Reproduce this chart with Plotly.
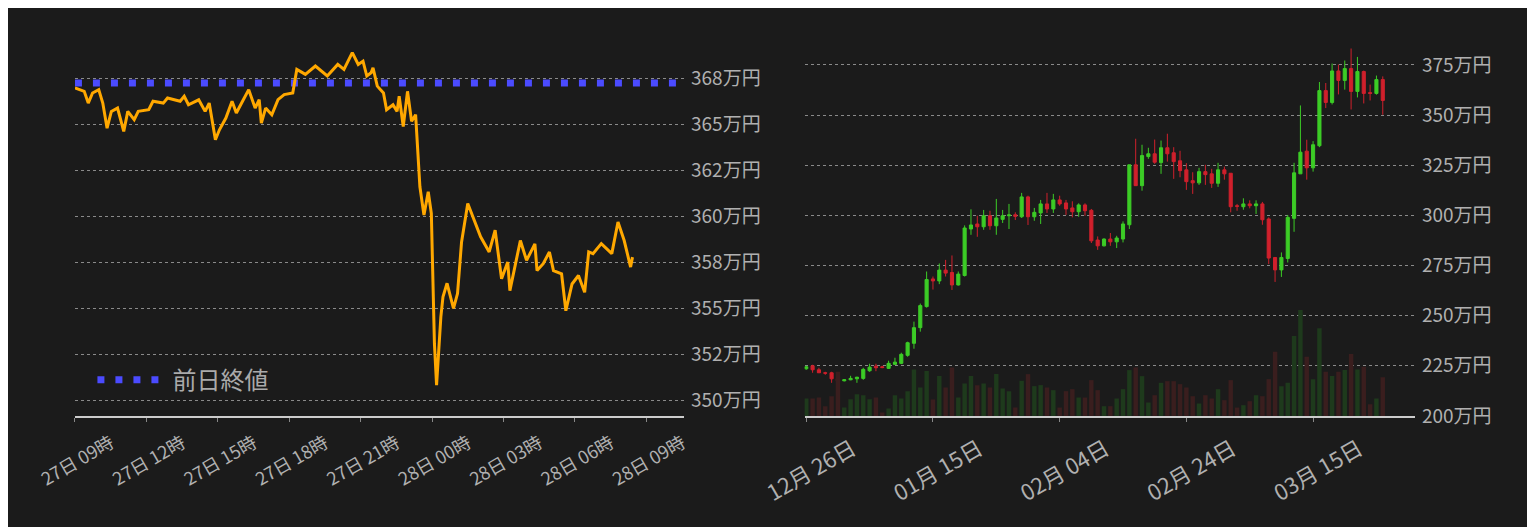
import pandas as pd
import plotly.graph_objects as go

# ---- 左: 当日の価格推移 (万円) ----
intraday_hours = [0, 0.39, 0.56, 0.74, 1.0, 1.17, 1.35, 1.53, 1.79, 2.05, 2.22, 2.49, 2.66, 3.1, 3.28,
                  3.71, 3.89, 4.42, 4.59, 4.77, 5.2, 5.47, 5.64, 5.9, 6.07, 6.34, 6.6, 6.78, 7.04,
                  7.3, 7.57, 7.74, 7.83, 8.01, 8.27, 8.53, 8.79, 9.15, 9.32, 9.68, 10.1, 10.36,
                  10.6, 11.04, 11.3, 11.65, 11.9, 12.1, 12.26, 12.44, 12.52, 12.7, 12.96, 13.09,
                  13.36, 13.53, 13.62, 13.79, 13.97, 14.14, 14.31, 14.49, 14.66, 14.84, 14.97,
                  15.1, 15.19, 15.37, 15.46, 15.63, 15.9, 16.07, 16.24, 16.5, 16.86, 17.04, 17.4,
                  17.65, 17.92, 18.18, 18.27, 18.45, 18.71, 18.97, 19.32, 19.41, 19.67, 19.93,
                  20.1, 20.44, 20.62, 20.88, 21.15, 21.41, 21.58, 21.76, 22.11, 22.55, 22.81,
                  23.07, 23.25, 23.34, 23.42]
intraday_price = [366.96, 366.78, 366.14, 366.69, 366.87, 366.14, 364.78, 365.69, 365.87, 364.6, 365.69,
                  365.24, 365.69, 365.78, 366.24, 366.14, 366.42, 366.24, 366.51, 366.05, 366.32,
                  365.69, 366.14, 364.15, 364.69, 365.33, 366.24, 365.6, 366.24, 366.87, 365.87,
                  366.33, 365.05, 365.87, 365.51, 366.33, 366.6, 366.69, 367.97, 367.7, 368.15,
                  367.88, 367.61, 368.24, 367.97, 368.88, 368.24, 368.42, 367.61, 367.79, 368.06,
                  367.06, 366.69, 365.78, 366.05, 365.69, 366.51, 364.87, 366.78, 365.15, 365.51,
                  361.6, 360.06, 361.33, 360.15, 353.08, 350.83, 354.54, 355.63, 356.36, 355.0,
                  355.8, 358.6, 360.69, 359.42, 358.88, 358.06, 359.24, 356.6, 357.51, 355.96,
                  357.05, 358.68, 357.6, 358.5, 357.05, 357.42, 358.06, 357.05, 356.87, 354.87,
                  356.32, 356.78, 355.87, 358.06, 357.97, 358.51, 357.97, 359.69, 358.68, 357.78,
                  357.24, 357.78, 357.97]
prev_close = 367.23
left_tickvals = [350, 352.5, 355, 357.5, 360, 362.5, 365, 367.5]
left_ticktext = ["350万円", "352万円", "355万円", "358万円", "360万円", "362万円", "365万円", "368万円"]

# ---- 右: 日足 (万円) ----
d_open = [223.5, 225, 223, 221.5, 221.5, 218.5, 217.5, 218, 218.5, 218.7, 222.5, 224.8, 224.5, 223.7, 225.7,
          226.2, 230.2, 236.2, 244, 254.5, 268.3, 267.3, 272.7, 271.5, 265.3, 270, 293.2, 295.7, 294.3,
          299.8, 294.8, 298, 299.8, 300.3, 299.3, 309.2, 299.3, 301.2, 305.7, 303.2, 307.7, 306.2, 303.7,
          301.8, 305.2, 302.5, 287.7, 284.8, 288.2, 286.8, 288.2, 295.3, 325.2, 314.8, 329.3, 330.7, 326.3,
          333.7, 331.2, 327.2, 322.7, 317.3, 316.2, 321.8, 320.7, 316, 322.7, 321, 304.8, 304.3, 305.7,
          304.8, 305.7, 298.2, 279, 272.8, 278.5, 298.5, 320.7, 332, 323.7, 334.7, 362.2, 356.3, 372,
          367.3, 373.2, 361.8, 371.7, 361.2, 360.8, 367.7]
d_high = [225, 225.5, 224, 222, 222, 219, 218.3, 220, 219.5, 224, 226, 226, 225, 227.5, 229, 231.5, 237, 247,
          256, 272, 269.5, 276, 277.8, 280, 272, 295, 303, 299.8, 302.7, 302.3, 308.2, 302.7, 305.7, 301.5,
          311.2, 309.8, 303.7, 307.7, 311.2, 310.7, 309.8, 307.7, 307, 306, 306, 303.2, 289.5, 288.5, 291.2,
          289.8, 297, 325.2, 338.2, 335.2, 333.7, 337.8, 337.3, 340.7, 334, 332.2, 326, 321.5, 323.7, 325.2,
          323.2, 326.2, 324.3, 321, 305.7, 308.5, 307.5, 307.5, 306.7, 299, 279, 281.5, 300.2, 326.2, 354.8,
          337.7, 337, 366.5, 366, 375.7, 375.2, 377.2, 383.2, 379, 372.2, 365.2, 369.7, 369.3]
d_low = [223, 221.5, 221.5, 220.5, 216.5, 216.5, 217.2, 217.8, 216.5, 218, 222, 222.3, 223.8, 223.5, 225.5,
         225.8, 229.5, 233.5, 242, 254, 263, 265.7, 269.5, 262.8, 265, 269.5, 290.3, 289.3, 292.8, 292.8,
         290.3, 296.2, 293.2, 297.7, 298.7, 295.2, 297.3, 295.7, 301.2, 301.2, 304.8, 300.2, 299, 299.3,
         299.8, 286.2, 282.8, 284.5, 284.8, 283.7, 286.5, 293.2, 314.8, 312.3, 328.2, 325.7, 320.7, 326.8,
         318.2, 319, 312.7, 310.7, 315.2, 315.2, 313.7, 314.2, 317.8, 301.5, 302.3, 302.8, 303.5, 300.7,
         295.3, 275.7, 266.8, 269.3, 276.5, 291.8, 320.7, 317.8, 321.8, 334, 353.5, 355.3, 360.3, 362.7,
         352.8, 358.8, 355.8, 357.3, 360.2, 350.2]
d_close = [224.5, 223, 221.5, 221.3, 218.5, 217.5, 218, 218.7, 219.3, 223.2, 224.3, 224, 224.1, 226.2, 226.8,
           230.7, 236.5, 244, 255, 268, 267.3, 272.7, 271.2, 265.3, 270.7, 293.7, 295.2, 294.3, 299.8,
           294.8, 298.7, 299.8, 300.2, 299.5, 309.2, 299.3, 301.5, 305.7, 303.2, 307.7, 305.7, 303.2, 301.8,
           305.2, 302.3, 287.3, 284.8, 288.2, 286.8, 288.7, 295.7, 325.2, 314.8, 329.8, 330.7, 326.5, 333.7,
           330.7, 326.8, 322.3, 316.8, 316.2, 321.8, 320.3, 316, 322.7, 320.7, 304.3, 304.5, 305.7, 304.8,
           305.7, 297.8, 278.7, 272.8, 279, 299, 321.2, 331.5, 323.7, 335.2, 362.2, 356.3, 372, 367.3,
           373.2, 361.8, 371.7, 360.8, 360.8, 367.7, 357.3]
d_volume = [52, 52, 55, 29, 59, 132, 25, 50, 65, 62, 50, 55, 10, 22, 62, 52, 74, 139, 85, 134, 49, 119, 85, 145,
            55, 97, 119, 92, 97, 85, 125, 82, 74, 25, 105, 125, 89, 92, 85, 77, 25, 74, 80, 55, 55, 107, 77,
            29, 29, 52, 80, 137, 145, 119, 40, 62, 99, 104, 104, 95, 85, 59, 37, 62, 52, 80, 47, 107, 25, 32,
            44, 62, 59, 110, 192, 89, 99, 239, 317, 177, 110, 262, 132, 119, 132, 137, 185, 139, 147, 35, 52,
            116]
right_tickvals = [200, 225, 250, 275, 300, 325, 350, 375]

times = pd.Timestamp("2024-03-27 09:00") + pd.to_timedelta(intraday_hours, unit="h")
dates = pd.date_range("2023-12-26", periods=len(d_open), freq="D")
vol_colors = ["#1e3a1c" if c >= o else "#3a1e1e" for o, c in zip(d_open, d_close)]

BG = "#1b1b1b"
GRID = "#8a8a8a"
TXT = "#b0b0b0"
FONT = "Noto Sans CJK JP"
YDOM = [0.226, 0.930]

fig = go.Figure()
fig.add_trace(go.Scatter(x=[times[0], pd.Timestamp("2024-03-28 10:35")], y=[prev_close, prev_close],
                         mode="lines", name="前日終値",
                         line=dict(color="#4b4bff", width=7, dash="7px,11px"),
                         xaxis="x", yaxis="y"))
fig.add_trace(go.Scatter(x=times, y=intraday_price, mode="lines", showlegend=False,
                         line=dict(color="#ffa800", width=3), xaxis="x", yaxis="y"))
fig.add_trace(go.Bar(x=dates, y=d_volume, marker=dict(color=vol_colors, line=dict(width=0)),
                     showlegend=False, xaxis="x2", yaxis="y3"))
fig.add_trace(go.Candlestick(x=dates, open=d_open, high=d_high, low=d_low, close=d_close,
                             increasing=dict(line=dict(color="#3ccc26", width=1), fillcolor="#3ccc26"),
                             decreasing=dict(line=dict(color="#d0202c", width=1), fillcolor="#d0202c"),
                             showlegend=False, xaxis="x2", yaxis="y2"))

fig.update_layout(
    width=1535, height=527, paper_bgcolor=BG, plot_bgcolor=BG,
    margin=dict(l=0, r=0, t=0, b=0, pad=0),
    font=dict(family=FONT, color=TXT),
    bargap=0.3,
    legend=dict(x=0.055, y=0.294, xanchor="left", yanchor="middle", bgcolor="rgba(0,0,0,0)",
                itemwidth=70, font=dict(size=24, color="#aaaaaa")),
    xaxis=dict(domain=[0.0436, 0.4404], anchor="y", type="date", automargin=False,
               range=[pd.Timestamp("2024-03-27 09:00"), pd.Timestamp("2024-03-28 10:35")],
               tickformat="%d日 %H時", dtick=3 * 3600 * 1000, tickangle=-30,
               ticklabelshift=36, ticklabelstandoff=4,
               tickfont=dict(size=18, color=TXT), showgrid=False, showline=True,
               linecolor="#cccccc", linewidth=2, ticks="outside", ticklen=4, tickcolor="#888"),
    yaxis=dict(domain=YDOM, anchor="x", side="right", range=[349.16, 369.3],
               automargin=False, tickvals=left_tickvals, ticktext=left_ticktext,
               tickfont=dict(size=19, color=TXT), ticklabelstandoff=6,
               gridcolor=GRID, griddash="3px,3px", gridwidth=1, zeroline=False, ticks=""),
    xaxis2=dict(domain=[0.519, 0.9166], anchor="y2", type="date", automargin=False,
                range=[pd.Timestamp("2023-12-25 18:00"), pd.Timestamp("2024-03-31 02:00")],
                tickformat="%m月 %d日", dtick=20 * 86400000, tick0="2023-12-26",
                tickangle=-30, ticklabelshift=46, ticklabelstandoff=6,
                tickfont=dict(size=22, color=TXT), showgrid=False,
                showline=True, linecolor="#cccccc", linewidth=2, ticks="outside", ticklen=4,
                tickcolor="#888", rangeslider=dict(visible=False)),
    yaxis2=dict(domain=YDOM, anchor="x2", side="right", range=[200, 385],
                automargin=False, tickvals=right_tickvals,
                ticktext=[f"{v}万円" for v in right_tickvals], ticklabelstandoff=6,
                tickfont=dict(size=19, color=TXT), gridcolor=GRID, griddash="3px,3px",
                gridwidth=1, zeroline=False),
    yaxis3=dict(domain=YDOM, anchor="x2", overlaying="y2", range=[0, 1110],
                visible=False, showgrid=False, automargin=False),
)

fig.write_html("out.html")
